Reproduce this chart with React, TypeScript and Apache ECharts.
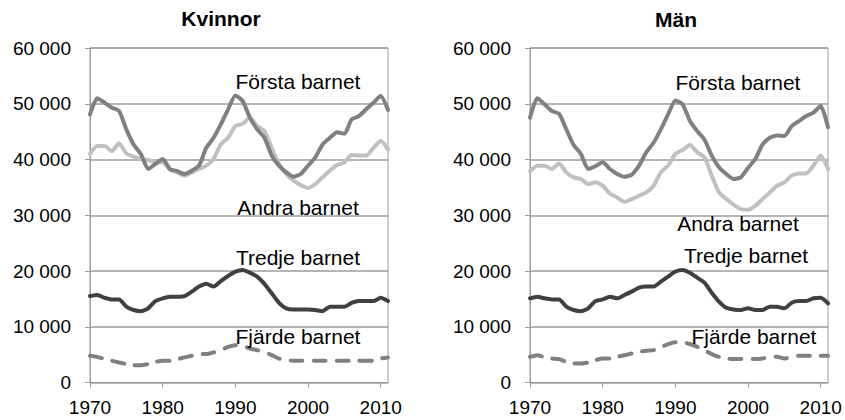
import React, { useEffect, useRef } from "react";
import * as echarts from "echarts";

const years = [
  1970, 1971, 1972, 1973, 1974, 1975, 1976, 1977, 1978, 1979,
  1980, 1981, 1982, 1983, 1984, 1985, 1986, 1987, 1988, 1989,
  1990, 1991, 1992, 1993, 1994, 1995, 1996, 1997, 1998, 1999,
  2000, 2001, 2002, 2003, 2004, 2005, 2006, 2007, 2008, 2009,
  2010, 2011,
];

// Kvinnor
const kvForsta = [
  48100, 51000, 50200, 49300, 48700, 45400, 42700, 41000, 38300, 39200,
  40100, 38300, 37900, 37400, 38000, 38900, 42100, 43900, 46300, 49000,
  51500, 50500, 47500, 45400, 43900, 40700, 38900, 37700, 36900, 37400,
  38900, 40400, 42700, 43900, 44900, 44600, 47200, 47800, 49000, 50200,
  51400, 48900,
];
const kvAndra = [
  41000, 42400, 42400, 41500, 42900, 41100, 40500, 40100, 39900, 39500,
  39500, 38200, 37700, 37100, 37700, 38300, 38900, 40100, 42700, 43900,
  46000, 46400, 47500, 46000, 45100, 42100, 39200, 37400, 36200, 35400,
  34900, 35600, 36800, 38000, 39000, 39500, 40800, 40700, 40700, 42100,
  43300, 41800,
];
const kvTredje = [
  15500, 15700, 15200, 14900, 14900, 13600, 13000, 12800, 13300, 14600,
  15100, 15400, 15400, 15500, 16300, 17200, 17700, 17200, 18200, 19100,
  19900, 20200, 19700, 19000, 17700, 16000, 14300, 13300, 13100, 13100,
  13100, 13000, 12800, 13600, 13600, 13600, 14300, 14600, 14600, 14600,
  15200, 14600,
];
const kvFjarde = [
  4800, 4600, 4200, 3900, 3600, 3300, 3100, 3100, 3300, 3700,
  3900, 3900, 4200, 4500, 4800, 5100, 5100, 5400, 5800, 6400,
  6700, 6600, 6100, 5800, 5500, 4900, 4300, 4000, 3900, 3900,
  3900, 3900, 3900, 3900, 3900, 3900, 3900, 3900, 3900, 3900,
  4300, 4500,
];

// Män
const manForsta = [
  47500, 51000, 49900, 48700, 48200, 45400, 42600, 41000, 38300, 38800,
  39500, 38300, 37400, 36900, 37300, 38900, 41300, 43000, 45400, 48100,
  50600, 49900, 46900, 45100, 43600, 40700, 38600, 37400, 36500, 36800,
  38500, 40100, 42700, 43900, 44300, 44200, 46000, 46900, 47800, 48400,
  49600, 45800,
];
const manAndra = [
  37900, 38900, 38900, 38300, 39300, 37700, 36800, 36500, 35600, 35900,
  35300, 33900, 33200, 32400, 32900, 33500, 34100, 35300, 37700, 38900,
  41000, 41700, 42600, 41300, 40400, 37100, 34100, 32900, 31900, 31100,
  31000, 31700, 32900, 34100, 35300, 35900, 37100, 37500, 37500, 38900,
  40700, 38300,
];
const manTredje = [
  15100, 15400, 15100, 14900, 14900, 13600, 13000, 12800, 13300, 14600,
  14900, 15400, 15100, 15700, 16300, 17000, 17200, 17200, 18100, 19000,
  19900, 20200, 19700, 18800, 17900, 16100, 14500, 13400, 13100, 13000,
  13300, 13000, 13000, 13600, 13600, 13300, 14300, 14600, 14600, 15100,
  15200, 14200,
];
const manFjarde = [
  4600, 4900, 4500, 4300, 4200, 3700, 3400, 3400, 3600, 4000,
  4300, 4300, 4600, 4900, 5200, 5500, 5700, 5800, 6300, 6900,
  7200, 7200, 6900, 6400, 5800, 5100, 4600, 4300, 4200, 4200,
  4200, 4200, 4300, 4600, 4600, 4300, 4600, 4800, 4800, 4800,
  4800, 4800,
];

const panelTitles = ["Kvinnor", "Män"];
const seriesNames = ["Första barnet", "Andra barnet", "Tredje barnet", "Fjärde barnet"];
const yTicks = { min: 0, max: 60000, interval: 10000 };
const xTicks = { min: 1970, max: 2011, interval: 10 };

const FONT = "'Liberation Sans', Arial, sans-serif";
const GRID_COLOR = "#9c9c9c";
const COLORS = ["#808080", "#c0c0c0", "#404040", "#808080"];

const fmt = (v: number) => {
  if (v === 0) return "0";
  const s = String(v);
  return s.slice(0, s.length - 3) + " " + s.slice(s.length - 3);
};

export default function App() {
  const ref = useRef<HTMLDivElement>(null);
  useEffect(() => {
    if (!ref.current) return;
    const chart = echarts.init(ref.current, null, { renderer: "svg" });
    const grids = [
      { left: 90, top: 48, width: 298, height: 334.5 },
      { left: 530, top: 48, width: 298, height: 334.5 },
    ];
    const mk = (arr: number[]) => arr.map((v, i) => [years[i], v]);
    const panels = [
      [kvForsta, kvAndra, kvTredje, kvFjarde],
      [manForsta, manAndra, manTredje, manFjarde],
    ];
    const series: any[] = [];
    panels.forEach((p, gi) => {
      p.forEach((arr, si) => {
        series.push({
          type: "line",
          name: seriesNames[si],
          xAxisIndex: gi,
          yAxisIndex: gi,
          data: mk(arr),
          showSymbol: false,
          symbol: "none",
          smooth: 0.2,
          z: 10 - si,
          lineStyle: {
            color: COLORS[si],
            width: 4,
            type: si === 3 ? [12, 11] : "solid",
            cap: "round",
            join: "round",
          },
        });
      });
    });
    const labelPos = [
      [
        [298, 81],
        [298, 207],
        [298, 257],
        [298, 336],
      ],
      [
        [738, 82],
        [738, 223],
        [746, 255],
        [754, 336],
      ],
    ];
    const graphic: any[] = [];
    const titlePos = [
      [221, 18],
      [676, 19],
    ];
    panelTitles.forEach((t, i) => {
      graphic.push({
        type: "text",
        x: titlePos[i][0],
        y: titlePos[i][1],
        style: {
          text: t,
          fontFamily: FONT,
          fontSize: 21,
          fontWeight: "bold",
          fill: "#000",
          textAlign: "center",
          textVerticalAlign: "middle",
        },
      });
    });
    labelPos.forEach((lp, gi) => {
      lp.forEach((pos, si) => {
        graphic.push({
          type: "text",
          x: pos[0],
          y: pos[1],
          z: 100,
          style: {
            text: seriesNames[si],
            fontFamily: FONT,
            fontSize: 21,
            fill: "#000",
            textAlign: "center",
            textVerticalAlign: "middle",
          },
        });
      });
    });
    chart.setOption({
      animation: false,
      backgroundColor: "#fff",
      grid: grids.map((g) => ({
        ...g,
        show: true,
        borderColor: GRID_COLOR,
        borderWidth: 1,
        containLabel: false,
      })),
      xAxis: grids.map((_, i) => ({
        type: "value",
        gridIndex: i,
        min: xTicks.min,
        max: xTicks.max,
        interval: xTicks.interval,
        axisLine: { show: true, lineStyle: { color: GRID_COLOR, width: 1 } },
        axisTick: { show: true, length: 5, lineStyle: { color: GRID_COLOR } },
        splitLine: { show: false },
        axisLabel: {
          showMaxLabel: false,
          margin: 15,
          fontSize: 19,
          fontFamily: FONT,
          color: "#000",
          formatter: (v: number) => String(v),
        },
      })),
      yAxis: grids.map((_, i) => ({
        type: "value",
        gridIndex: i,
        min: yTicks.min,
        max: yTicks.max,
        interval: yTicks.interval,
        axisLine: { show: true, lineStyle: { color: GRID_COLOR, width: 1 } },
        axisTick: { show: true, length: 5, lineStyle: { color: GRID_COLOR } },
        splitLine: { show: true, lineStyle: { color: GRID_COLOR, width: 1.5 } },
        axisLabel: {
          margin: 19,
          fontSize: 19,
          fontFamily: FONT,
          color: "#000",
          formatter: fmt,
        },
      })),
      series,
      graphic,
    });
    return () => chart.dispose();
  }, []);
  return <div ref={ref} style={{ width: 845, height: 420, position: "absolute", left: 0, top: 0 }} />;
}
